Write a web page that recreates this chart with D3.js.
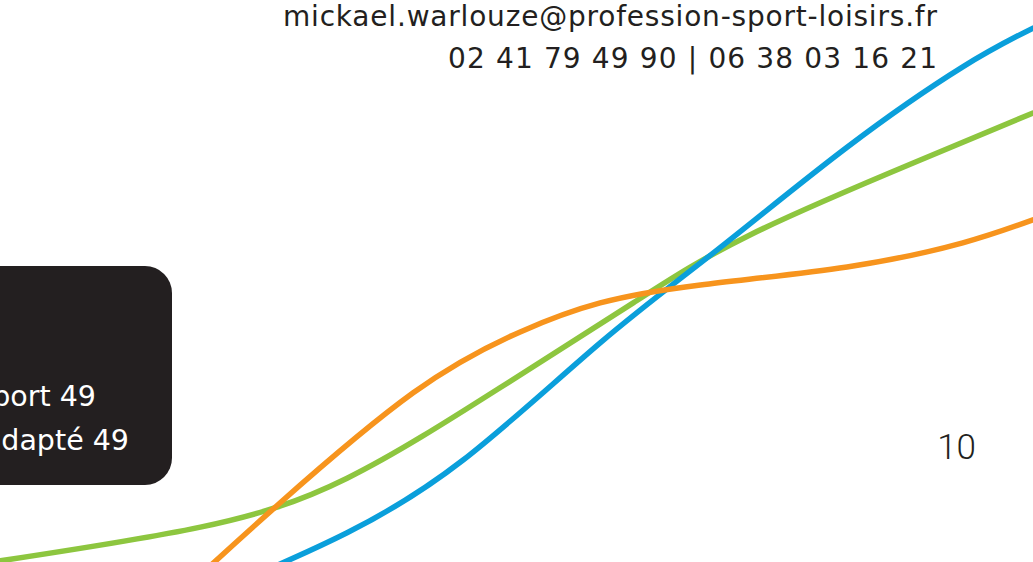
<!DOCTYPE html>
<html lang="fr">
<head>
<meta charset="utf-8">
<script src="https://cdn.jsdelivr.net/npm/d3@7"></script>
<style>
    html, body { margin: 0; padding: 0; background: #ffffff; overflow: hidden; }
    #chart { width: 1033px; height: 562px; }
</style>
</head>
<body>
<div id="chart"></div>
<script>
// Courbes décoratives (x et y en % de la page)
const blueX   = [24.2, 33.6, 44.8, 58.1, 69.4, 82.0, 93.2, 100];
const blueY   = [-2.7, 5.2, 18.1, 39.0, 55.5, 73.8, 88.1, 95.0];
const greenX  = [0, 19.4, 33.6, 48.4, 61.3, 72.6, 88.4, 100];
const greenY  = [0.2, 6.2, 14.9, 31.0, 46.1, 58.2, 71.0, 79.9];
const orangeX = [19.4, 27.1, 40.0, 50.3, 58.1, 67.8, 82.0, 93.2, 100];
const orangeY = [-2.3, 10.5, 30.1, 40.9, 46.1, 49.3, 52.5, 56.8, 60.9];

// Textes
const contactLines = ['mickael.warlouze@profession-sport-loisirs.fr', '02 41 79 49 90 | 06 38 03 16 21'];
const boxLines = ['Profession Sport 49', 'Sport adapté 49'];
const pageNumber = '10';

function renderPage() {
    const width = 1033;
    const height = 562;

    const svg = d3.select('#chart')
        .append('svg')
        .attr('width', width)
        .attr('height', height)
        .attr('viewBox', [0, 0, width, height]);

    const x = d3.scaleLinear().domain([0, 100]).range([0, width]);
    const y = d3.scaleLinear().domain([0, 100]).range([height, 0]);

    // cadre noir à gauche
    svg.append('rect')
        .attr('x', -40)
        .attr('y', 266)
        .attr('width', 212)
        .attr('height', 219)
        .attr('rx', 27)
        .attr('fill', '#231f20');

    svg.append('g')
        .attr('fill', '#ffffff')
        .attr('font-family', 'DejaVu Sans, Verdana, sans-serif')
        .attr('font-size', 28.5)
        .attr('text-anchor', 'end')
        .selectAll('text')
        .data(boxLines)
        .join('text')
        .attr('x', (d, i) => i === 0 ? 96 : 129)
        .attr('y', (d, i) => 406 + i * 44)
        .text(d => d);

    // courbes
    const series = [
        { xs: greenX, ys: greenY, color: '#8dc63f' },
        { xs: blueX, ys: blueY, color: '#0a9fdb' },
        { xs: orangeX, ys: orangeY, color: '#f7941d' }
    ];

    const line = d3.line()
        .x(d => x(d[0]))
        .y(d => y(d[1]))
        .curve(d3.curveNatural);

    svg.append('g')
        .attr('fill', 'none')
        .attr('stroke-width', 5.5)
        .attr('stroke-linecap', 'round')
        .selectAll('path')
        .data(series)
        .join('path')
        .attr('stroke', d => d.color)
        .attr('d', d => line(d3.zip(d.xs, d.ys)));

    // coordonnées en haut à droite
    svg.append('g')
        .attr('fill', '#231f20')
        .attr('font-family', 'DejaVu Sans, Verdana, sans-serif')
        .attr('font-size', 28)
        .attr('text-anchor', 'end')
        .selectAll('text')
        .data(contactLines)
        .join('text')
        .attr('x', 937)
        .attr('y', (d, i) => 26 + i * 42)
        .attr('textLength', (d, i) => i === 0 ? 654 : 489)
        .attr('lengthAdjust', 'spacing')
        .text(d => d);

    // numéro de page
    svg.append('text')
        .attr('x', 976)
        .attr('y', 459)
        .attr('text-anchor', 'end')
        .attr('font-family', 'Roboto, Lato, sans-serif')
        .attr('font-weight', 300)
        .attr('font-size', 35)
        .attr('fill', '#231f20')
        .text(pageNumber);
}

renderPage();
</script>
</body>
</html>
